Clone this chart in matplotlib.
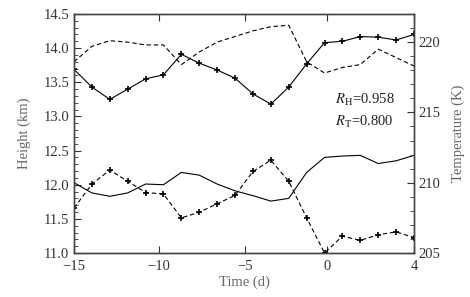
import matplotlib
matplotlib.use('Agg')
import matplotlib.pyplot as plt
from matplotlib.ticker import MultipleLocator

plt.rcParams['font.family'] = ['Liberation Serif', 'DejaVu Serif']
plt.rcParams['mathtext.fontset'] = 'stix'

# daily samples
days = list(range(-15, 5))

# height series (km)
height_a = [13.69, 13.43, 13.25, 13.40, 13.55, 13.61, 13.91, 13.78, 13.68, 13.56,
            13.33, 13.18, 13.43, 13.77, 14.08, 14.10, 14.17, 14.16, 14.12, 14.20]
height_b = [12.03, 11.88, 11.83, 11.88, 12.01, 12.00, 12.18, 12.14, 12.01, 11.91,
            11.84, 11.76, 11.80, 12.18, 12.40, 12.42, 12.43, 12.31, 12.35, 12.43]

# temperature series (K)
temp_a = [218.6, 219.7, 220.1, 220.0, 219.8, 219.8, 218.4, 219.3, 220.0, 220.4,
          220.8, 221.1, 221.2, 218.6, 217.8, 218.2, 218.4, 219.5, 218.9, 218.3]
temp_b = [208.2, 209.9, 210.9, 210.1, 209.3, 209.2, 207.5, 207.9, 208.5, 209.1,
          210.8, 211.6, 210.1, 207.5, 205.0, 206.2, 205.9, 206.3, 206.5, 206.1]

# x tick marks sit where the original figure put them
xtick_pos = [-15, -10.25, -5.45, -0.85, 4]
xtick_labels = ['\u221215', '\u221210', '\u22125', '0', '4']
height_ticks = [11.0, 11.5, 12.0, 12.5, 13.0, 13.5, 14.0, 14.5]
temp_ticks = [205, 210, 215, 220]

tick_col = '#333333'
label_col = '#666666'

fig = plt.figure(figsize=(4.7, 2.97), dpi=100)
ax = fig.add_axes([74 / 470, 1 - 253 / 297, 340 / 470, 239 / 297])
ax2 = ax.twinx()

ax.plot(days, height_a, color='black', lw=0.8, marker='+', ms=5, mew=1.2)
ax.plot(days, height_b, color='black', lw=0.8)
ax2.plot(days, temp_a, color='black', lw=0.8, ls=(0, (4, 2.5)))
ax2.plot(days, temp_b, color='black', lw=0.8, ls=(0, (4, 2.5)), marker='+', ms=5, mew=1.2)

ax.set_xlim(-15, 4)
ax.set_ylim(11.0, 14.5)
ax2.set_ylim(205, 222)
ax.set_xticks(xtick_pos)
ax.set_xticklabels(xtick_labels)
ax.set_yticks(height_ticks)
ax.set_yticklabels(['%.1f' % v for v in height_ticks])
ax.yaxis.set_minor_locator(MultipleLocator(0.1))
ax2.set_yticks(temp_ticks)
ax2.yaxis.set_minor_locator(MultipleLocator(1))

ax.tick_params(axis='both', which='both', direction='in', colors=tick_col, labelsize=10.5,
               top=True, right=False)
ax.tick_params(axis='y', which='major', length=5)
ax.tick_params(axis='y', which='minor', length=3)
ax.tick_params(axis='x', which='major', length=5, pad=5)
ax2.tick_params(axis='y', which='both', direction='in', colors=tick_col, labelsize=10.5)
ax2.tick_params(axis='y', which='major', length=5)
ax2.tick_params(axis='y', which='minor', length=3)

for a in (ax, ax2):
    for s in a.spines.values():
        s.set_color('#444444')
        s.set_linewidth(1.0)

ax.set_xlabel('Time (d)', color=label_col, fontsize=10.5, labelpad=2)
ax.set_ylabel('Height (km)', color=label_col, fontsize=10.5, labelpad=9)
ax2.set_ylabel('Temperature (K)', color=label_col, fontsize=10.5, labelpad=8)

ax.text(0.768, 0.64, r'$R_{\rm H}$=0.958', transform=ax.transAxes, fontsize=10.5,
        color='#222222', va='center')
ax.text(0.768, 0.548, r'$R_{\rm T}$=0.800', transform=ax.transAxes, fontsize=10.5,
        color='#222222', va='center')

fig.savefig('out.png', dpi=100)
